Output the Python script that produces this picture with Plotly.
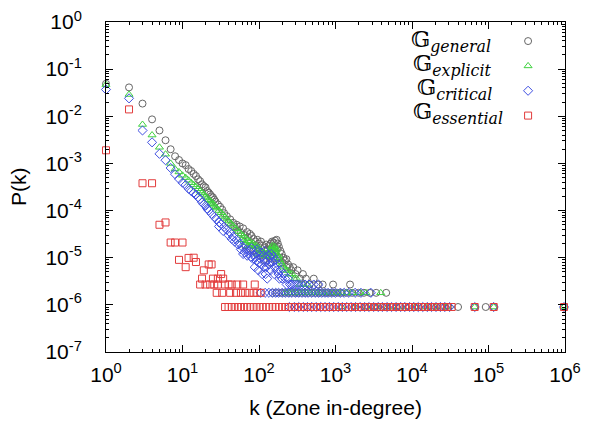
import plotly.graph_objects as go

# ---------------- data ----------------
# G_general (grey circles)
general_main_k = [1, 2, 3, 4, 5, 6, 7, 8, 9, 10, 11, 12, 13, 14, 15, 16, 17, 18, 19, 20,
                  21, 22, 23, 24, 25, 26, 27, 29, 31, 33, 35, 38, 42, 46, 51, 56, 62, 70, 76]
general_main_p = [0.049, 0.041, 0.0186, 0.0086, 0.0050, 0.0031, 0.0020, 0.00142, 0.00118, 0.00100,
                  0.00092, 0.00076, 0.00069, 0.00060, 0.00054, 0.00046, 0.00042, 0.00036, 0.00033, 0.00031,
                  0.00026, 0.00024, 0.00022, 0.00020, 0.00019, 0.00017, 0.000155, 0.000135, 0.00012, 0.000105,
                  0.000088, 0.000076, 0.000065, 0.000055, 0.000050, 0.000046, 0.000042, 0.000035, 0.000032]
general_cloud_k = [40, 48, 53, 58, 65, 72, 80, 85, 90, 95, 100, 106, 112, 118, 124, 130, 136, 142, 148, 155,
                   162, 170, 176, 182, 190, 198, 208, 218, 228, 240, 252, 265, 280, 300, 320, 345, 375, 410,
                   460, 520, 590, 680, 930, 1550, 66, 75, 84, 94, 104, 115, 128, 140, 152, 165, 172, 186,
                   200, 230, 150, 158]
general_cloud_p = [5.5e-5, 4.6e-5, 3.8e-5, 3.4e-5, 3.0e-5, 2.7e-5, 2.9e-5, 2.5e-5, 2.2e-5, 2.4e-5,
                   2.0e-5, 2.2e-5, 1.8e-5, 1.6e-5, 1.9e-5, 1.5e-5, 1.8e-5, 2.0e-5, 2.2e-5, 2.1e-5,
                   2.3e-5, 2.4e-5, 2.0e-5, 1.7e-5, 1.4e-5, 1.2e-5, 1.0e-5, 8.7e-6, 9.3e-6, 7.2e-6,
                   6.3e-6, 5.4e-6, 6.3e-6, 4.5e-6, 5.4e-6, 3.6e-6, 4.5e-6, 3.6e-6, 2.7e-6, 3.6e-6,
                   2.7e-6, 2.7e-6, 2.7e-6, 2.7e-6, 1.8e-5, 1.6e-5, 1.4e-5, 1.2e-5, 1.1e-5, 9.0e-6,
                   1.1e-5, 8.0e-6, 9.5e-6, 1.3e-5, 1.6e-5, 1.0e-5, 8.0e-6, 6.3e-6, 1.4e-5, 1.7e-5]
general_two_k = [150, 170, 195, 215, 240, 265, 295, 325, 360, 400, 445, 495, 550, 610, 680, 760, 850,
                 950, 1070, 1200, 1400, 1650, 2000, 2350, 2800, 3400, 4600]
general_one_k = [2500, 3300, 4400, 5600, 7000, 10800, 14000, 19000, 25000, 30000, 40000, 66000,
                 92000, 117000, 970000]

# G_explicit (green triangles)
explicit_main_k = [1, 2, 3, 4, 5, 6, 7, 8, 9, 10, 11, 12, 13, 14, 15, 16, 17, 18, 19, 20, 21, 22, 23,
                   24, 25, 26, 27, 28, 30, 32, 34, 36, 38, 40, 43, 46, 50, 54, 58, 62, 67, 72]
explicit_main_p = [0.047, 0.029, 0.0067, 0.0040, 0.0022, 0.00157, 0.0010, 0.00076, 0.00066, 0.00056,
                   0.00050, 0.00044, 0.00039, 0.00035, 0.00032, 0.00029, 0.00026, 0.00024, 0.00022, 0.00020,
                   0.000185, 0.00017, 0.00016, 0.00015, 0.00014, 0.00013, 0.00012, 0.000113, 0.00010, 0.00009,
                   0.00008, 0.000073, 0.000066, 0.00006, 0.000053, 0.000047, 0.000041, 0.000036, 0.000032,
                   0.000029, 0.000026, 0.000023]
explicit_cloud_k = [76, 80, 84, 88, 92, 96, 100, 104, 108, 112, 116, 120, 125, 130, 135, 140, 145, 150,
                    155, 160, 165, 170, 175, 180, 185, 190, 200, 210, 220, 235, 250, 270, 290, 310, 340,
                    380, 430, 148, 158, 152, 162, 168, 60, 66, 72, 95]
explicit_cloud_p = [2.2e-5, 1.9e-5, 2.0e-5, 1.7e-5, 1.8e-5, 1.5e-5, 1.6e-5, 1.3e-5, 1.4e-5, 1.2e-5,
                    1.3e-5, 1.1e-5, 1.2e-5, 1.05e-5, 1.3e-5, 1.5e-5, 1.65e-5, 1.8e-5, 1.6e-5, 1.45e-5,
                    1.3e-5, 1.2e-5, 1.0e-5, 1.1e-5, 9.0e-6, 8.1e-6, 7.2e-6, 6.3e-6, 5.4e-6, 5.4e-6,
                    4.5e-6, 4.5e-6, 3.6e-6, 3.6e-6, 2.7e-6, 2.7e-6, 2.7e-6, 1.4e-5, 1.2e-5, 1.1e-5,
                    1.7e-5, 1.5e-5, 2.4e-5, 2.1e-5, 1.8e-5, 1.2e-5]
explicit_two_k = [220, 245, 270, 300, 335, 370, 410, 455, 505, 560, 620, 690, 770, 860, 960, 1080,
                  1220, 1400, 1650, 2100, 2500, 3900]
explicit_one_k = [1200, 1800, 2600, 3500, 4800, 6500, 8500, 11000, 15000, 20000, 28000, 66000,
                  117000, 970000]

# G_critical (blue diamonds)
critical_main_k = [1, 2, 3, 4, 5, 6, 7, 8, 9, 10, 11, 12, 13, 14, 15, 16, 17, 18, 19, 20, 21, 22,
                   24, 26, 28, 30, 32, 35, 38, 42, 46, 51, 56, 60, 65]
critical_main_p = [0.037, 0.024, 0.0050, 0.0028, 0.0016, 0.00117, 0.00080, 0.00059, 0.00047, 0.00039,
                   0.00035, 0.00029, 0.00026, 0.000235, 0.00022, 0.00019, 0.000175, 0.00015, 0.000135,
                   0.000126, 0.00011, 0.0001, 0.000085, 0.000073, 0.000065, 0.000056, 0.000052, 0.000045,
                   0.000039, 0.000034, 0.000028, 0.000024, 0.00002, 0.000017, 0.000013]
critical_cloud_k = [30, 34, 40, 44, 48, 53, 58, 62, 68, 70, 72, 75, 78, 80, 83, 86, 90, 93, 96, 100,
                    104, 108, 112, 116, 120, 125, 130, 135, 140, 145, 150, 155, 160, 165, 170, 175, 180,
                    190, 200, 210, 220, 230, 240, 255, 270, 290, 310, 330, 360, 400, 450, 520, 600, 88,
                    98, 110, 122, 128, 142, 158, 185, 118, 132, 94, 106]
critical_cloud_p = [4.6e-5, 3.7e-5, 3.0e-5, 2.5e-5, 2.2e-5, 1.9e-5, 1.5e-5, 1.2e-5, 1.5e-5, 1.1e-5,
                    1.25e-5, 1.4e-5, 1.05e-5, 1.6e-5, 9.5e-6, 1.15e-5, 1.0e-5, 8.5e-6, 1.3e-5, 7.8e-6,
                    9.5e-6, 7.2e-6, 1.1e-5, 6.3e-6, 8.1e-6, 6.3e-6, 9.0e-6, 7.2e-6, 1.0e-5, 1.2e-5,
                    8.1e-6, 1.05e-5, 6.3e-6, 9.0e-6, 5.4e-6, 7.2e-6, 4.5e-6, 5.4e-6, 3.6e-6, 4.5e-6,
                    3.6e-6, 2.7e-6, 3.6e-6, 2.7e-6, 2.7e-6, 2.7e-6, 2.7e-6, 2.7e-6, 2.7e-6, 2.7e-6,
                    2.7e-6, 2.7e-6, 2.7e-6, 6.3e-6, 5.4e-6, 4.5e-6, 4.5e-6, 3.6e-6, 5.4e-6, 4.5e-6,
                    3.6e-6, 1.4e-5, 1.15e-5, 1.5e-5, 1.3e-5]
critical_two_k = [105, 120, 135, 150, 165, 180, 200, 220, 245, 270, 300, 330, 365, 400, 440, 490, 540,
                  600, 660, 730, 800, 900, 1000, 1150, 1300, 1500, 1800, 2150, 2900]
critical_one_k = [250, 290, 330, 380, 430, 490, 560, 640, 730, 830, 950, 1080, 1230, 1400, 1600, 1830,
                  2100, 2400, 2750, 3150, 3600, 4100, 4700, 5400, 6200, 7100, 8100, 9300, 10600, 12100,
                  13800, 15800, 18000, 20600, 23500, 27000, 31000, 66000, 117000, 970000]

# G_essential (red squares)
essential_main_k = [1, 2, 3, 4, 5, 6, 7, 8, 10, 9, 11, 12, 14, 15, 19, 22, 24, 18, 17, 20, 25, 29,
                    34, 32, 36, 44, 52, 62, 88, 23, 26, 29, 40]
essential_main_p = [1.9e-3, 0.014, 3.8e-4, 3.8e-4, 5.0e-5, 5.6e-5, 2.1e-5, 2.1e-5, 2.1e-5, 9.0e-6,
                    6.3e-6, 9.9e-6, 1.0e-5, 8.1e-6, 5.4e-6, 7.2e-6, 7.2e-6, 3.6e-6, 2.7e-6, 2.7e-6,
                    3.6e-6, 3.6e-6, 3.6e-6, 4.5e-6, 2.7e-6, 2.7e-6, 2.7e-6, 2.7e-6, 2.7e-6, 2.7e-6,
                    2.7e-6, 2.7e-6, 2.7e-6]
essential_two_k = [28, 33, 42, 50, 58, 66, 75, 85, 95, 105]
essential_one_k = [36, 40, 44, 48, 53, 58, 64, 70, 77, 85, 93, 102, 112, 124, 136, 150, 165, 182, 200,
                   220, 242, 266, 293, 322, 355, 390, 430, 470, 520, 570, 630, 690, 760, 840, 920, 1010,
                   1110, 1230, 1350, 1490, 1640, 1800, 1980, 2180, 2400, 2640, 2900, 3200, 3520, 3870,
                   4250, 4680, 5150, 5660, 6230, 6850, 7540, 8290, 9120, 10000, 11000, 12100, 13400,
                   14700, 16200, 17800, 19600, 21500, 23700, 26000, 28600, 33000, 66000, 117000, 970000]

P_ONE = 9.0e-7   # lowest level (one zone)
P_TWO = 1.8e-6   # second level (two zones)

x_tick_vals = [1, 10, 100, 1000, 10000, 100000, 1000000]
x_tick_text = ["10<sup>0</sup>", "10<sup>1</sup>", "10<sup>2</sup>", "10<sup>3</sup>",
               "10<sup>4</sup>", "10<sup>5</sup>", "10<sup>6</sup>"]
y_tick_vals = [1, 1e-1, 1e-2, 1e-3, 1e-4, 1e-5, 1e-6, 1e-7]
y_tick_text = ["10<sup>0</sup>", "10<sup>-1</sup>", "10<sup>-2</sup>", "10<sup>-3</sup>",
               "10<sup>-4</sup>", "10<sup>-5</sup>", "10<sup>-6</sup>", "10<sup>-7</sup>"]

series = [
    ("general", general_main_k, general_main_p, general_cloud_k, general_cloud_p,
     general_two_k, general_one_k, "circle-open", "#666666", 7),
    ("explicit", explicit_main_k, explicit_main_p, explicit_cloud_k, explicit_cloud_p,
     explicit_two_k, explicit_one_k, "triangle-up-open", "#3fd23f", 7),
    ("critical", critical_main_k, critical_main_p, critical_cloud_k, critical_cloud_p,
     critical_two_k, critical_one_k, "diamond-open", "#3f4fe2", 7),
    ("essential", essential_main_k, essential_main_p, [], [],
     essential_two_k, essential_one_k, "square-open", "#e23c3c", 7),
]

fig = go.Figure()
for name, mk, mp, ck, cp, tk, ok, sym, col, sz in series:
    xs = list(mk) + list(ck) + list(tk) + list(ok)
    ys = list(mp) + list(cp) + [P_TWO] * len(tk) + [P_ONE] * len(ok)
    fig.add_trace(go.Scatter(
        x=xs, y=ys, mode="markers", name="", showlegend=True, cliponaxis=False,
        marker=dict(symbol=sym, size=sz, color=col, line=dict(width=1, color=col)),
        hoverinfo="x+y",
    ))

axis_font = dict(family="Liberation Sans, Arial, sans-serif", size=21, color="black")
common = dict(
    type="log", showgrid=False, zeroline=False, showline=True, linecolor="black", linewidth=1,
    mirror="ticks", ticks="inside", ticklen=7, tickwidth=1, tickcolor="black",
    tickfont=axis_font, ticklabeloverflow="allow",
    minor=dict(ticks="inside", ticklen=3, tickwidth=1, tickcolor="black", dtick="D1", showgrid=False),
)
fig.update_xaxes(range=[0, 6], tickmode="array", tickvals=x_tick_vals, ticktext=x_tick_text,
                 title=dict(text="k (Zone in-degree)", font=axis_font, standoff=15),
                 ticklabelstandoff=4, automargin="bottom", **common)
fig.update_yaxes(range=[-7, 0], tickmode="array", tickvals=y_tick_vals, ticktext=y_tick_text,
                 ticklabelstandoff=19, automargin="left", **common)

# y-axis title placed as text so it can sit as far left as in the reference
fig.add_annotation(xref="paper", yref="paper", x=-0.192, y=0.503, xanchor="center", yanchor="middle",
                   showarrow=False, textangle=-90, text="P(k)", font=axis_font)

legend_labels = ["general", "explicit", "critical", "essential"]
legend_x = [0.660, 0.664, 0.673, 0.664]
legend_y = [0.942, 0.870, 0.797, 0.725]
for lab, lx, ly in zip(legend_labels, legend_x, legend_y):
    fig.add_annotation(
        xref="paper", yref="paper", x=lx, y=ly, xanchor="left", yanchor="middle", showarrow=False,
        text="\U0001D53E<sub><i>" + lab + "</i></sub>",
        font=dict(family="DejaVu Serif, Liberation Serif, serif", size=22.5, color="black"),
    )

# the page body adds an 8 px offset, so the figure is 8 px smaller than the window
fig.update_layout(
    width=600, height=424,
    margin=dict(l=98, r=43, t=14, b=80),
    plot_bgcolor="white", paper_bgcolor="white",
    legend=dict(x=0.876, y=0.995, xanchor="left", yanchor="top", bgcolor="rgba(0,0,0,0)",
                font=dict(size=16.8), tracegroupgap=0, itemwidth=30),
    font=dict(family="Liberation Sans, Arial, sans-serif"),
)

fig.write_html("out.html")
